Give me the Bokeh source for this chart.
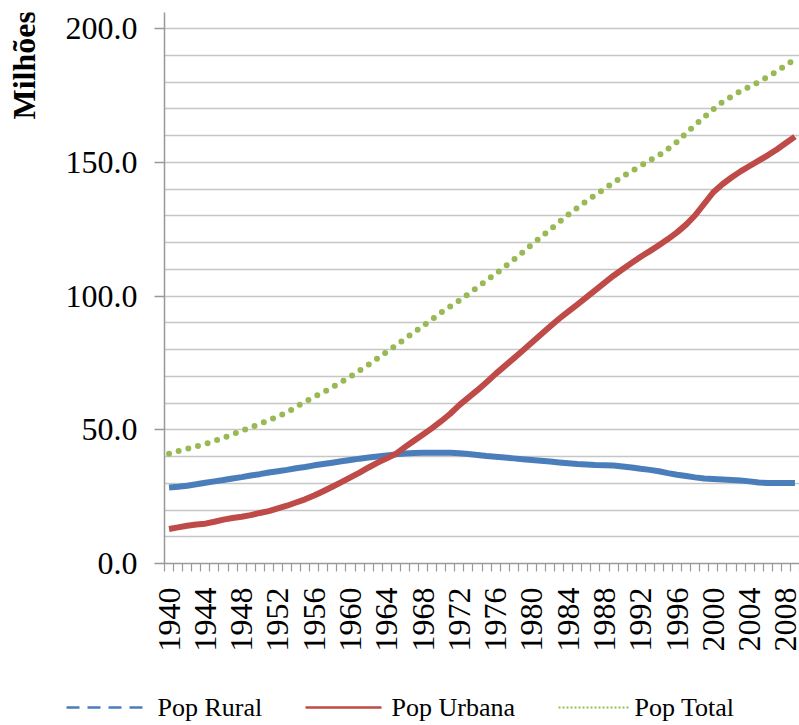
from bokeh.plotting import figure
from bokeh.layouts import column, row
from bokeh.models import Range1d, FixedTicker, NumeralTickFormatter
from bokeh.core.properties import value
from bokeh.embed import file_html
from bokeh.resources import INLINE
import math

# População do Brasil (milhões), 1940-2009
years = list(range(1940, 2010))

pop_rural = [
    28.4, 28.7, 29.1, 29.6, 30.2, 30.7, 31.2, 31.8, 32.3, 32.9,
    33.4, 34.0, 34.5, 35.0, 35.6, 36.1, 36.7, 37.2, 37.7, 38.2,
    38.7, 39.2, 39.6, 40.0, 40.4, 40.8, 41.1, 41.3, 41.4, 41.4,
    41.4, 41.4, 41.2, 40.9, 40.6, 40.2, 39.9, 39.6, 39.3, 39.0,
    38.7, 38.4, 38.1, 37.8, 37.5, 37.2, 37.0, 36.8, 36.7, 36.6,
    36.3, 35.9, 35.4, 35.0, 34.5, 33.8, 33.2, 32.7, 32.2, 31.8,
    31.6, 31.4, 31.2, 31.0, 30.7, 30.3, 30.1, 30.1, 30.1, 30.1,
]

pop_urbana = [
    12.9, 13.5, 14.1, 14.6, 14.9, 15.6, 16.4, 17.0, 17.5, 18.1,
    18.9, 19.6, 20.6, 21.6, 22.8, 24.0, 25.4, 27.0, 28.7, 30.4,
    32.2, 34.0, 35.9, 37.7, 39.3, 41.0, 43.5, 45.9, 48.2, 50.6,
    53.2, 56.0, 59.2, 62.0, 64.8, 67.8, 70.9, 73.8, 76.7, 79.6,
    82.6, 85.6, 88.6, 91.5, 94.2, 96.8, 99.5, 102.2, 104.9, 107.6,
    110.0, 112.4, 114.7, 116.8, 119.0, 121.3, 123.8, 126.7, 130.2, 134.5,
    138.8, 141.8, 144.3, 146.6, 148.6, 150.6, 152.6, 154.8, 157.2, 159.6,
]

pop_total = [
    41.0, 42.0, 42.9, 43.8, 44.7, 45.8, 47.0, 48.3, 49.6, 50.9,
    52.2, 53.6, 55.0, 56.5, 58.5, 60.5, 62.3, 64.0, 65.9, 67.9,
    69.9, 72.1, 74.3, 76.7, 79.1, 81.5, 84.0, 86.4, 88.8, 91.3,
    93.8, 96.1, 98.3, 100.8, 103.2, 105.8, 108.3, 110.9, 113.6, 116.4,
    119.3, 122.0, 124.8, 127.6, 130.4, 133.0, 135.5, 137.8, 140.1, 142.4,
    144.7, 146.7, 148.7, 150.7, 152.6, 155.0, 157.6, 160.9, 164.0, 166.9,
    169.8, 172.5, 174.6, 176.6, 178.3, 180.0, 182.0, 184.0, 186.3, 188.5,
]

y_ticks = [0, 50, 100, 150, 200]
y_grid = list(range(0, 201, 10))
x_label_years = list(range(1940, 2010, 4))
series_labels = ["Pop Rural", "Pop Urbana", "Pop Total"]
y_title = "Milhões"

BLUE = "#4a7ebb"
RED = "#be4b48"
GREEN = "#98b954"
AXIS = "#999999"
FONT = "Liberation Serif"

# page geometry (pixels)
PAGE_W, PAGE_H = 799, 725
STRIP_W = 40          # column holding the vertical y-axis title
LEGEND_H = 62         # row holding the legend
CHART_H = PAGE_H - LEGEND_H
FRAME_W, FRAME_H, FRAME_TOP = 635, 551, 12


def blank(fig):
    fig.outline_line_color = None
    fig.xgrid.visible = False
    fig.ygrid.visible = False
    fig.background_fill_color = "white"
    fig.border_fill_color = "white"


# ---- main chart ----
p = figure(frame_width=FRAME_W, frame_height=FRAME_H,
           x_range=Range1d(years[0] - 0.5, years[-1] + 0.5),
           y_range=Range1d(0, 206),
           output_backend="svg", toolbar_location=None, title_location=None,
           min_border_left=PAGE_W - STRIP_W - FRAME_W, min_border_right=0,
           min_border_top=FRAME_TOP,
           min_border_bottom=CHART_H - FRAME_TOP - FRAME_H)
p.outline_line_color = None
p.background_fill_color = "white"
p.border_fill_color = "white"

# category axis: ticks at the boundaries between years, labels every 4 years
xa = p.xaxis[0]
xa.ticker = FixedTicker(ticks=x_label_years,
                        minor_ticks=[y - 0.5 for y in years] + [years[-1] + 0.5])
xa.axis_line_color = AXIS
xa.axis_line_width = 1.5
xa.major_tick_line_color = None
xa.major_tick_out = 8
xa.major_tick_in = 0
xa.minor_tick_line_color = AXIS
xa.minor_tick_line_width = 1.2
xa.minor_tick_out = 8
xa.minor_tick_in = 0
xa.major_label_orientation = math.pi / 2
xa.major_label_standoff = 16
xa.major_label_text_font = FONT
xa.major_label_text_font_size = "32px"
xa.major_label_text_color = "black"

ya = p.yaxis[0]
ya.ticker = FixedTicker(ticks=y_ticks)
ya.formatter = NumeralTickFormatter(format="0.0")
ya.axis_line_color = AXIS
ya.axis_line_width = 1.5
ya.major_tick_line_color = AXIS
ya.major_tick_line_width = 1.5
ya.major_tick_out = 10
ya.major_tick_in = 0
ya.minor_tick_line_color = None
ya.major_label_standoff = 17
ya.major_label_text_font = FONT
ya.major_label_text_font_size = "32px"
ya.major_label_text_color = "black"

p.xgrid.grid_line_color = None
p.ygrid.ticker = FixedTicker(ticks=y_grid)
p.ygrid.grid_line_color = "#c6c6c6"
p.ygrid.grid_line_width = 1.5

p.line(years, pop_rural, line_color=BLUE, line_width=6, line_join="round")
p.line(years, pop_urbana, line_color=RED, line_width=6, line_join="round")
p.line(years, pop_total, line_color=GREEN, line_width=6,
       line_dash="0 10", line_cap="round")

# ---- y-axis title strip ----
t = figure(frame_width=STRIP_W, frame_height=CHART_H,
           x_range=Range1d(0, STRIP_W), y_range=Range1d(0, CHART_H),
           output_backend="svg", toolbar_location=None, title_location=None,
           x_axis_type=None, y_axis_type=None,
           min_border_left=0, min_border_right=0,
           min_border_top=0, min_border_bottom=0)
blank(t)
t.text(x=[23], y=[CHART_H - 107], text=[y_title], angle=math.pi / 2,
       text_align="left", text_baseline="middle",
       text_font=value(FONT), text_font_style="bold",
       text_font_size="32px", text_color="black")

# ---- legend strip ----
lg = figure(frame_width=PAGE_W, frame_height=LEGEND_H,
            x_range=Range1d(0, PAGE_W), y_range=Range1d(0, LEGEND_H),
            output_backend="svg", toolbar_location=None, title_location=None,
            x_axis_type=None, y_axis_type=None,
            min_border_left=0, min_border_right=0,
            min_border_top=0, min_border_bottom=0)
blank(lg)

swatch_x = [(66, 142), (305, 381), (558, 628)]
label_x = [157, 391, 634]
row_y = 18
swatch_styles = [
    dict(line_color=BLUE, line_width=2.5, line_dash="13 8"),
    dict(line_color=RED, line_width=2.5),
    dict(line_color=GREEN, line_width=2, line_dash="2 2"),
]
for (x0, x1), style in zip(swatch_x, swatch_styles):
    lg.line([x0, x1], [row_y, row_y], **style)
lg.text(x=label_x, y=[row_y] * 3, text=series_labels,
        text_align="left", text_baseline="middle",
        text_font=value(FONT), text_font_size="26px", text_color="black")

layout = column(row(t, p, spacing=0), lg, spacing=0)
open("out.html", "w").write(file_html(layout, INLINE))
